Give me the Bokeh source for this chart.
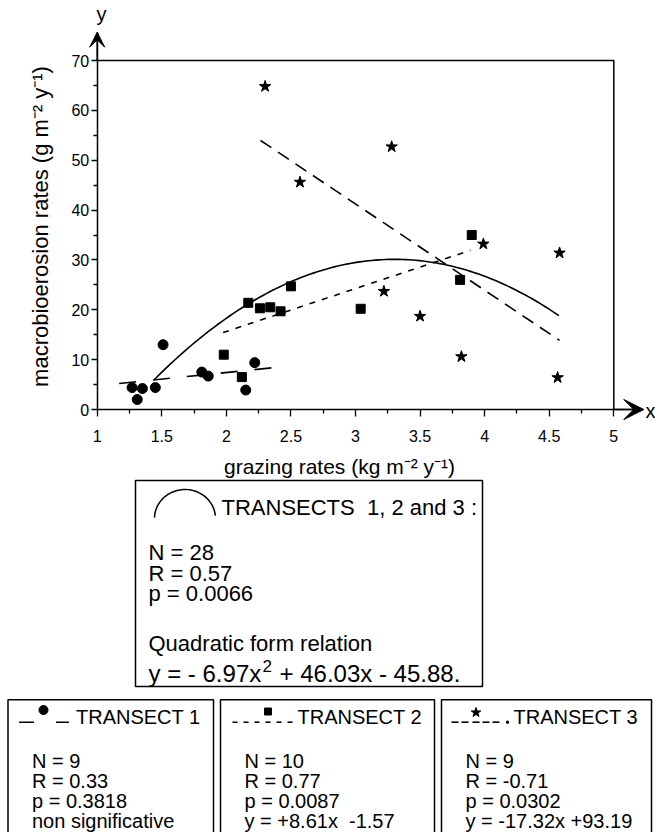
import numpy as np
from bokeh.plotting import figure
from bokeh.models import Range1d, FixedTicker, Arrow, VeeHead, LinearAxis, NumeralTickFormatter
from bokeh.embed import file_html
from bokeh.resources import INLINE
from bokeh.core.properties import value

# ---------------- data ----------------
# Transect 1 (circles)
t1_x = [1.27, 1.31, 1.35, 1.45, 1.51, 1.81, 1.86, 2.15, 2.22]
t1_y = [4.4, 2.0, 4.2, 4.4, 13.0, 7.5, 6.7, 3.9, 9.4]
# Transect 2 (squares)
t2_x = [1.98, 2.12, 2.17, 2.26, 2.34, 2.42, 2.50, 3.04, 3.81, 3.90]
t2_y = [11.0, 6.5, 21.4, 20.3, 20.5, 19.7, 24.7, 20.2, 26.0, 35.0]
# Transect 3 (stars)
t3_x = [2.30, 2.57, 3.22, 3.28, 3.50, 3.82, 3.99, 4.565, 4.58]
t3_y = [64.8, 45.6, 23.7, 52.7, 18.7, 10.6, 33.2, 6.4, 31.4]

# fitted relations (coefficients and x extents)
quad_coef = [-6.97, 46.03, -45.88]
quad_range = [1.44, 4.575]
t1_fit = [2.66, 2.10]      # slope, intercept
t1_range = [1.17, 2.355]
t2_fit = [8.61, -1.57]
t2_range = [1.975, 3.89]
t3_fit = [-17.32, 93.19]
t3_range = [2.265, 4.58]

x_ticks = [1, 1.5, 2, 2.5, 3, 3.5, 4, 4.5, 5]
x_minor = [1.25, 1.75, 2.25, 2.75, 3.25, 3.75, 4.25, 4.75]
y_ticks = [0, 10, 20, 30, 40, 50, 60, 70]
y_minor = [5, 15, 25, 35, 45, 55, 65]

x_label = "grazing rates (kg m\u207b\u00b2 y\u207b\u00b9)"
y_label = "macrobioerosion rates (g m\u207b\u00b2 y\u207b\u00b9)"

summary_title = "TRANSECTS\u00a0 1, 2 and 3 :"
summary_lines = ["N = 28", "R = 0.57", "p = 0.0066"]
summary_eq_title = "Quadratic form relation"
summary_eq = ["y = - 6.97x", "2", "+ 46.03x - 45.88."]

transect_titles = ["TRANSECT 1", "TRANSECT 2", "TRANSECT 3"]
transect_lines = [
    ["N = 9", "R = 0.33", "p = 0.3818", "non significative"],
    ["N = 10", "R = 0.77", "p = 0.0087", "y = +8.61x \u00a0-1.57"],
    ["N = 9", "R = -0.71", "p = 0.0302", "y = -17.32x +93.19"],
]

FONT = "Liberation Sans"

# ---------------- layout (canvas pixels) ----------------
W, H = 655, 832
X_LO_PX, X_HI_PX = 96.7, 613.3      # where x = 1 and x = 5 sit
Y_LO_PX, Y_HI_PX = 409.0, 60.0      # where y = 0 and y = 70 sit
x_lo, x_hi = x_ticks[0], x_ticks[-1]
y_lo, y_hi = y_ticks[0], y_ticks[-1]
sx = (X_HI_PX - X_LO_PX) / (x_hi - x_lo)
sy = (Y_LO_PX - Y_HI_PX) / (y_hi - y_lo)

def dx(px):
    return x_lo + (px - X_LO_PX) / sx

def dy(py):
    return y_lo + (Y_LO_PX - py) / sy

p = figure(width=W, height=H,
           x_range=Range1d(dx(0), dx(W)), y_range=Range1d(dy(H), dy(0)),
           x_axis_location=None, y_axis_location=None, min_border=0,
           output_backend="svg", toolbar_location=None)
p.grid.visible = False
p.outline_line_color = None
p.background_fill_color = "white"
p.border_fill_color = "white"
p.extra_x_ranges = {"px": Range1d(0, W)}
p.extra_y_ranges = {"py": Range1d(H, 0)}

x_tip = dx(643.3)
y_tip = dy(31.7)

xaxis = LinearAxis(fixed_location=y_lo, bounds=(x_lo, x_tip),
                   ticker=FixedTicker(ticks=x_ticks, minor_ticks=x_minor),
                   formatter=NumeralTickFormatter(format="0.[0]"))
yaxis = LinearAxis(fixed_location=x_lo, bounds=(y_lo, y_tip),
                   ticker=FixedTicker(ticks=y_ticks, minor_ticks=y_minor))
for ax in (xaxis, yaxis):
    ax.axis_line_width = 1.5
    ax.axis_line_color = "black"
    ax.major_tick_in = 0
    ax.major_tick_out = 7
    ax.minor_tick_in = 0
    ax.minor_tick_out = 4
    ax.major_tick_line_width = 1.3
    ax.minor_tick_line_width = 1.3
    ax.major_tick_line_color = "black"
    ax.minor_tick_line_color = "black"
    ax.major_label_text_font = FONT
    ax.major_label_text_font_size = "16px"
    ax.major_label_text_color = "black"
xaxis.major_label_standoff = 13
yaxis.major_tick_out = 6
yaxis.major_label_standoff = 2
p.add_layout(xaxis, "below")
p.add_layout(yaxis, "left")

# frame: top and right sides
p.line([x_lo, x_hi, x_hi], [y_hi, y_hi, y_lo], line_color="black", line_width=1.5)

# axis arrows and letters
p.add_layout(Arrow(end=VeeHead(size=15, fill_color="black", line_color="black"),
                   x_start=x_lo, y_start=y_hi, x_end=x_lo, y_end=y_tip,
                   line_width=1.5, line_color="black"))
p.add_layout(Arrow(end=VeeHead(size=20, fill_color="black", line_color="black"),
                   x_start=x_hi, y_start=y_lo, x_end=x_tip, y_end=y_lo,
                   line_width=1.5, line_color="black"))

def ptxt(x, y, s, size, align="left"):
    p.text(x=x, y=y, text=s, text_font=value(FONT), text_font_size=size,
           text_align=align, text_baseline="middle", text_color="black",
           x_range_name="px", y_range_name="py")

ptxt([101], [13], ["y"], "20px", "center")
ptxt([650], [410], ["x"], "20px", "center")
ptxt([339], [466], [x_label], "21px", "center")
# rotated y axis label (primary ranges keep the screen orientation simple)
p.text(x=[dx(40)], y=[dy(226)], text=[y_label], angle=np.pi / 2,
       text_font=value(FONT), text_font_size="22px", text_align="center",
       text_baseline="middle", text_color="black")

# fitted lines
xq = np.linspace(quad_range[0], quad_range[1], 120)
yq = quad_coef[0] * xq ** 2 + quad_coef[1] * xq + quad_coef[2]
p.line(xq, yq, line_color="black", line_width=1.6)
x1 = np.array(t1_range)
p.line(x1, t1_fit[0] * x1 + t1_fit[1], line_color="black", line_width=1.6, line_dash="17 17")
x2 = np.array(t2_range)
p.line(x2, t2_fit[0] * x2 + t2_fit[1], line_color="black", line_width=1.6, line_dash="6 7")
x3 = np.array(t3_range)
p.line(x3, t3_fit[0] * x3 + t3_fit[1], line_color="black", line_width=1.6, line_dash="13 8")

# points
p.scatter(t1_x, t1_y, marker="circle", size=10, fill_color="black", line_color="black")
p.scatter(t2_x, t2_y, marker="square", size=9, fill_color="black", line_color="black")
p.scatter(t3_x, t3_y, marker="star", size=12, fill_color="black", line_color="black")

# ---------------- legend boxes (canvas pixel coordinates) ----------------
def pbox(l, r, t, b):
    p.quad(left=[l], right=[r], top=[t], bottom=[b], fill_color=None, line_color="black",
           line_width=1.5, x_range_name="px", y_range_name="py")

pbox(135, 482, 480, 686)
th = np.linspace(np.pi + 0.03, 2 * np.pi - 0.1, 60)
p.line(184.5 + 30.5 * np.cos(th), 518 + 29 * np.sin(th), line_color="black", line_width=1.5,
       x_range_name="px", y_range_name="py")
ptxt([221], [506.7], [summary_title], "22px")
ptxt([148] * 3, [551.7, 572.7, 593.3], summary_lines, "22px")
ptxt([148], [643.3], [summary_eq_title], "22px")
ptxt([148], [673.3], [summary_eq[0]], "24px")
ptxt([262], [665.5], [summary_eq[1]], "17px")
ptxt([279], [673.3], [summary_eq[2]], "24px")

box_left = [7.5, 220, 441]
box_right = [213, 434, 651]
for L, R, lines in zip(box_left, box_right, transect_lines):
    pbox(L, R, 699.3, H + 10)
    ptxt([L + 24] * 4, [760, 780, 800.5, 820], lines, "20px")

def seg(x0, x1, y):
    p.segment(x0=x0, y0=[y] * len(x0), x1=x1, y1=[y] * len(x0), line_color="black",
              line_width=1.6, x_range_name="px", y_range_name="py")

def mark(x, y, m, s):
    p.scatter(x, y, marker=m, size=s, color="black", x_range_name="px", y_range_name="py")

ys = 721.7
# transect 1 symbol
L = box_left[0]
seg([L + 11, L + 48], [L + 26, L + 61], ys)
mark([L + 35.5], [709.5], "circle", 9)
ptxt([L + 68], [716.7], [transect_titles[0]], "20px")
# transect 2 symbol
L = box_left[1]
st = np.array([12, 23, 34, 45, 56, 67]) + L
seg(st, st + 5, ys)
mark([L + 47.5], [711], "square", 7)
ptxt([L + 77], [716.7], [transect_titles[1]], "20px")
# transect 3 symbol
L = box_left[2]
st = np.array([10, 20, 31, 41, 51]) + L
seg(st, st + 7, ys)
mark([L + 34.5], [712], "star", 10)
mark([L + 66], [ys], "circle", 2.5)
ptxt([L + 72], [716.7], [transect_titles[2]], "20px")

open("out.html", "w").write(file_html(p, INLINE))
